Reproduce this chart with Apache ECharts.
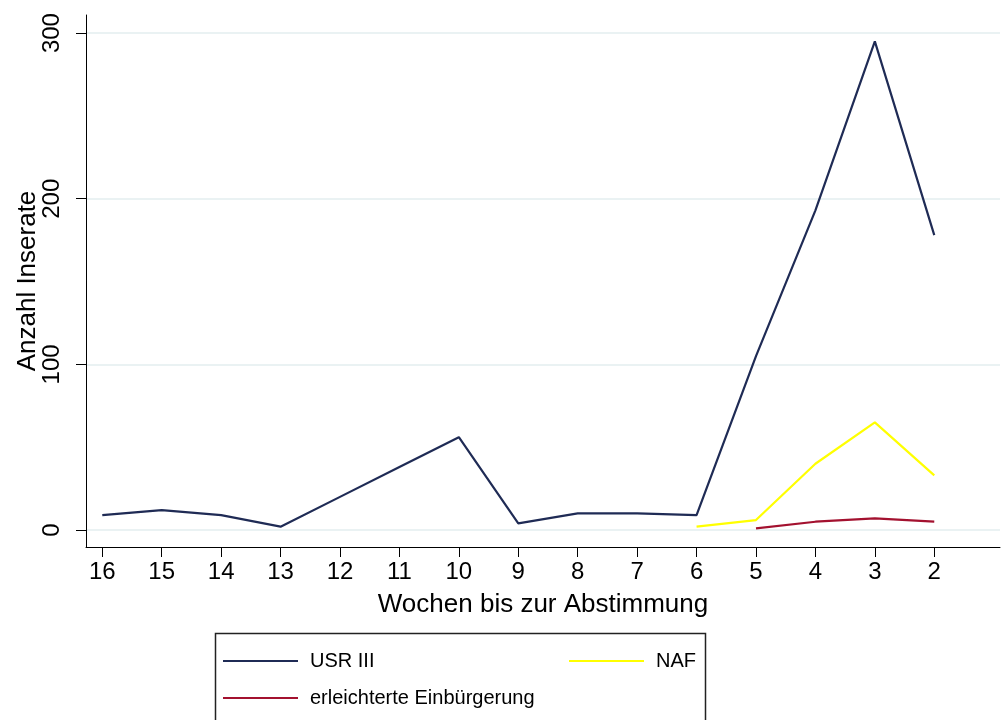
<!DOCTYPE html>
<html>
<head>
<meta charset="utf-8">
<script src="https://cdn.jsdelivr.net/npm/echarts@6/dist/echarts.min.js"></script>
<style>
html,body{margin:0;padding:0;background:#fff;}
#chart{width:1002px;height:720px;}
</style>
</head>
<body>
<div id="chart"></div>
<script>
const weeks = [16, 15, 14, 13, 12, 11, 10, 9, 8, 7, 6, 5, 4, 3, 2];
const usrIII = [9, 12, 9, 2, 20, 38, 56, 4, 10, 10, 9, 105, 193, 295, 178];
const naf = [null, null, null, null, null, null, null, null, null, null, 2, 6, 40, 65, 33];
const einb = [null, null, null, null, null, null, null, null, null, null, null, 1, 5, 7, 5];
const yTicks = [0, 100, 200, 300];
const seriesNames = ['USR III', 'NAF', 'erleichterte Einbürgerung'];
const colors = ['#1f2b55', '#ffff00', '#a3112f'];

function pairs(vals) {
  const out = [];
  weeks.forEach((w, i) => { if (vals[i] !== null) out.push([w, vals[i]]); });
  return out;
}

const FONT = 'Liberation Sans, Arial, Helvetica, sans-serif';
const chart = echarts.init(document.getElementById('chart'));
const legendCommon = {
  orient: 'horizontal',
  icon: 'rect',
  itemWidth: 75,
  itemHeight: 2,
  padding: 0,
  selectedMode: false,
  textStyle: { fontFamily: FONT, fontSize: 20, color: '#000', padding: [0, 0, 0, 7] }
};
chart.setOption({
  animation: false,
  backgroundColor: '#fff',
  color: colors,
  grid: { left: 86, right: 2, top: 15, bottom: 173, containLabel: false, outerBoundsMode: 'none' },
  xAxis: {
    type: 'value',
    inverse: true,
    min: 0.894,
    max: 16.274,
    name: 'Wochen bis zur Abstimmung',
    nameLocation: 'middle',
    nameGap: 45,
    nameTextStyle: { fontFamily: FONT, fontSize: 26, color: '#000' },
    axisLine: { show: true, onZero: false, lineStyle: { color: '#000', width: 1 } },
    axisTick: { show: true, length: 10, customValues: weeks, lineStyle: { color: '#000', width: 1 } },
    axisLabel: { customValues: weeks, fontFamily: FONT, fontSize: 24, color: '#000', margin: 13 },
    splitLine: { show: false }
  },
  yAxis: {
    type: 'value',
    min: -10.26,
    max: 310.9,
    name: 'Anzahl Inserate',
    nameLocation: 'middle',
    nameRotate: 90,
    nameGap: 45,
    nameMoveOverlap: false,
    nameTextStyle: { fontFamily: FONT, fontSize: 26, color: '#000' },
    axisLine: { show: true, lineStyle: { color: '#000', width: 1 } },
    axisTick: { show: true, length: 10, customValues: yTicks, lineStyle: { color: '#000', width: 1 } },
    axisLabel: { customValues: yTicks, rotate: 90, fontFamily: FONT, fontSize: 24, color: '#000', margin: 22 },
    splitLine: { show: true, lineStyle: { color: '#eaf2f3', width: 2 } }
  },
  legend: [
    Object.assign({}, legendCommon, { data: [seriesNames[0]], left: 223, top: 651 }),
    Object.assign({}, legendCommon, { data: [seriesNames[1]], left: 569, top: 651 }),
    Object.assign({}, legendCommon, { data: [seriesNames[2]], left: 223, top: 688 })
  ],
  graphic: [{
    type: 'rect',
    shape: { x: 215.5, y: 633.5, width: 490, height: 100 },
    style: { fill: 'none', stroke: '#222', lineWidth: 1.5 },
    z: -1
  }],
  series: [
    { name: seriesNames[0], type: 'line', data: pairs(usrIII), symbol: 'none', lineStyle: { width: 2.2, color: colors[0] }, itemStyle: { color: colors[0] } },
    { name: seriesNames[1], type: 'line', data: pairs(naf), symbol: 'none', lineStyle: { width: 2.2, color: colors[1] }, itemStyle: { color: colors[1] } },
    { name: seriesNames[2], type: 'line', data: pairs(einb), symbol: 'none', lineStyle: { width: 2.2, color: colors[2] }, itemStyle: { color: colors[2] } }
  ]
});
</script>
</body>
</html>
